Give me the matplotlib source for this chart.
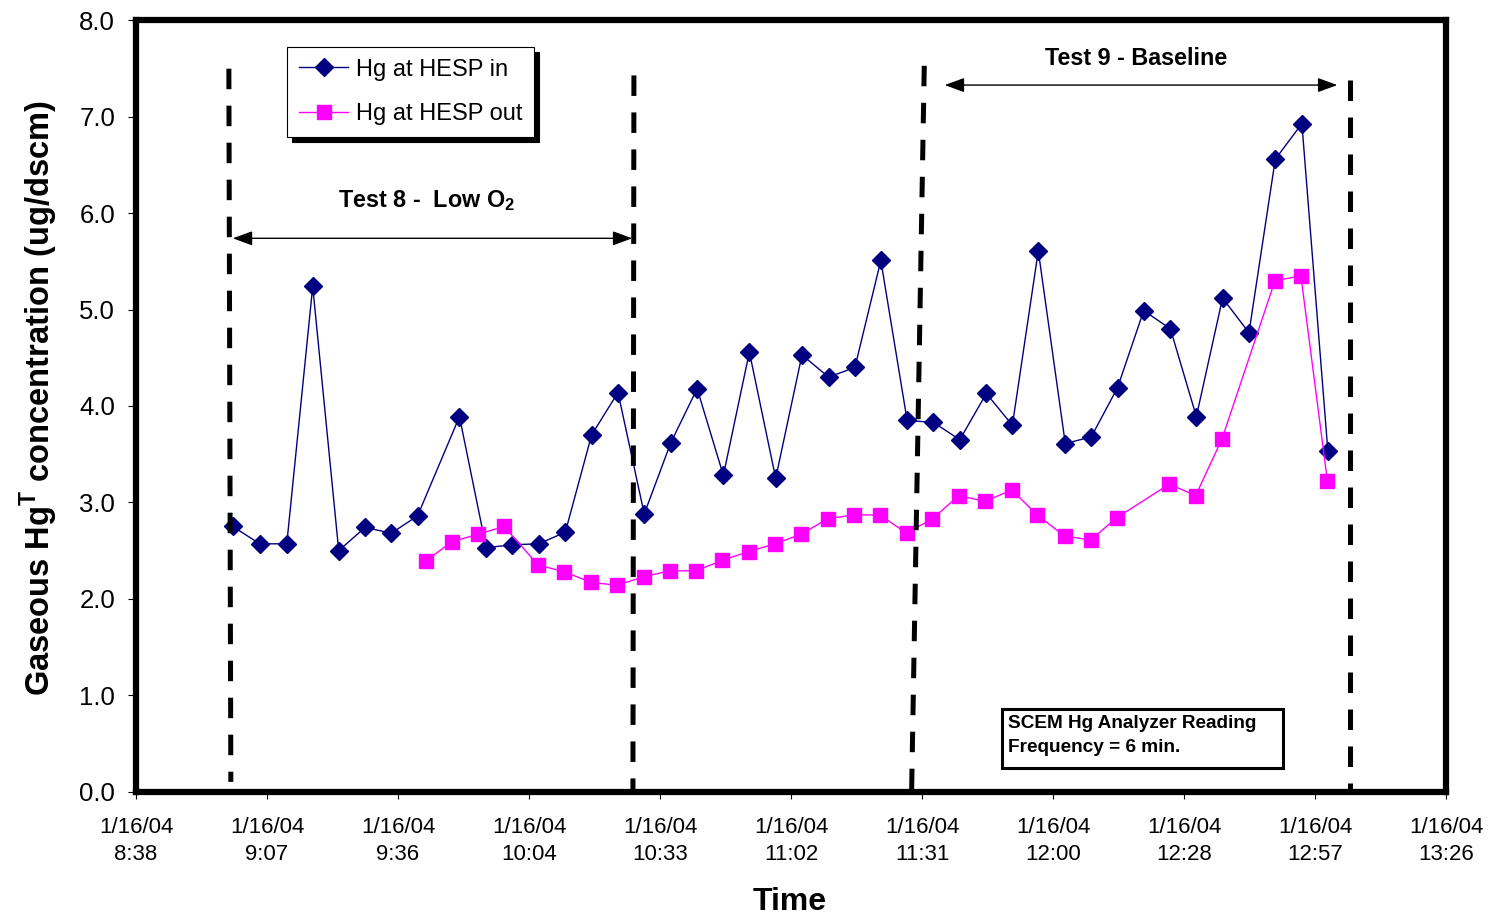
import matplotlib
matplotlib.use("Agg")
import matplotlib.pyplot as plt
import matplotlib.dates as mdates
from matplotlib.patches import Rectangle
import pandas as pd

plt.rcParams['font.family'] = ['Liberation Sans', 'DejaVu Sans']
plt.rcParams['mathtext.fontset'] = 'custom'
plt.rcParams['mathtext.rm'] = 'Liberation Sans'
plt.rcParams['mathtext.bf'] = 'Liberation Sans:bold'

day = "2004-01-16 "

# SCEM readings at the HESP inlet
in_times = ["8:59:41", "9:05:36", "9:11:33", "9:17:15", "9:22:58", "9:28:47", "9:34:32",
            "9:40:18", "9:49:31", "9:55:23", "10:01:10", "10:06:56", "10:12:47", "10:18:34",
            "10:24:22", "10:30:08", "10:35:59", "10:41:46", "10:47:32", "10:53:15", "10:59:02",
            "11:04:49", "11:10:40", "11:16:27", "11:22:09", "11:27:56", "11:33:43", "11:39:30",
            "11:45:21", "11:51:04", "11:56:46", "12:02:42", "12:08:25", "12:14:11", "12:19:57",
            "12:25:49", "12:31:31", "12:37:17", "12:43:05", "12:48:52", "12:54:43", "13:00:26"]
in_hg = [2.75, 2.57, 2.57, 5.24, 2.50, 2.74, 2.68,
         2.86, 3.89, 2.53, 2.56, 2.57, 2.69, 3.70,
         4.14, 2.88, 3.62, 4.18, 3.28, 4.56, 3.25,
         4.53, 4.30, 4.40, 5.51, 3.85, 3.83, 3.65,
         4.13, 3.80, 5.61, 3.61, 3.68, 4.19, 4.99,
         4.80, 3.89, 5.12, 4.76, 6.56, 6.93, 3.53]

# SCEM readings at the HESP outlet
out_times = ["9:42:04", "9:47:46", "9:53:38", "9:59:20", "10:06:48", "10:12:34", "10:18:26",
             "10:24:08", "10:30:08", "10:35:46", "10:41:33", "10:47:19", "10:53:07", "10:58:53",
             "11:04:40", "11:10:28", "11:16:14", "11:21:56", "11:27:48", "11:33:30", "11:39:17",
             "11:45:08", "11:50:55", "11:56:31", "12:02:33", "12:08:16", "12:14:01", "12:25:35",
             "12:31:22", "12:37:10", "12:48:48", "12:54:30", "13:00:20"]
out_hg = [2.39, 2.59, 2.67, 2.75, 2.35, 2.28, 2.17,
          2.14, 2.23, 2.29, 2.29, 2.40, 2.49, 2.57,
          2.67, 2.83, 2.87, 2.87, 2.68, 2.83, 3.07,
          3.01, 3.13, 2.87, 2.65, 2.61, 2.84, 3.19,
          3.07, 3.66, 5.30, 5.35, 3.22]

# hand-drawn test period boundaries (top and bottom end of each dashed line)
bound_top_t = ["8:58:49", "10:27:52", "11:31:42", "13:05:19"]
bound_bot_t = ["8:59:15", "10:27:39", "11:28:54", "13:05:19"]
bound_top_v = [7.50, 7.43, 7.53, 7.38]
bound_bot_v = [0.10, 0.02, -0.05, 0.0]

# test periods: arrow start, arrow end, arrow level, label time, label level
test8 = ("8:59:41", "10:27:30", 5.74, "9:42:18", 6.13)
test9 = ("11:36:12", "13:02:30", 7.33, "12:18:21", 7.61)


def tnum(ts):
    if isinstance(ts, str):
        return mdates.date2num(pd.Timestamp(day + ts).to_pydatetime())
    return [mdates.date2num(pd.Timestamp(day + t).to_pydatetime()) for t in ts]


fig = plt.figure(figsize=(14.93, 9.15), dpi=100)
ax = fig.add_axes([0.09109, 0.13497, 0.96852 - 0.09109, 0.9776 - 0.13497])

ax.plot(tnum(in_times), in_hg, color='#000080', lw=1.0, marker='D', ms=9.2,
        mec='#000080', mfc='#000080', label='Hg at HESP in', zorder=3)
ax.plot(tnum(out_times), out_hg, color='#FF00FF', lw=1.0, marker='s', ms=9.8,
        mec='#FF00FF', mfc='#FF00FF', label='Hg at HESP out', zorder=3)

# x axis: Excel-style date ticks every 0.02 day
ticks = pd.date_range(day + "08:38:24", periods=11, freq="1728s")
tick_nums = [mdates.date2num(t.to_pydatetime()) for t in ticks]
tick_labels = ["{}/{}/{}\n{}:{:02d}".format(t.month, t.day, t.strftime("%y"), t.hour, t.minute)
               for t in ticks]
ax.set_xlim(tick_nums[0], tick_nums[-1])
ax.set_xticks(tick_nums)
ax.set_xticklabels(tick_labels, fontsize=16, linespacing=1.4)
ax.set_ylim(0, 8)
ax.set_yticks(range(0, 9))
ax.set_yticklabels(["{:.1f}".format(v) for v in range(0, 9)], fontsize=18.5)
ax.tick_params(axis='x', direction='out', length=5, width=0.8, pad=13)
ax.tick_params(axis='y', direction='out', length=6, width=0.8, pad=9)
for s in ax.spines.values():
    s.set_linewidth(4.5)
    s.set_color('black')

# dashed boundaries
for tt, tb, vt, vb in zip(bound_top_t, bound_bot_t, bound_top_v, bound_bot_v):
    ax.plot([tnum(tt), tnum(tb)], [vt, vb], color='black', lw=3.6,
            linestyle=(0, (4.1, 3.3)), dash_capstyle='butt', zorder=4, clip_on=False)

# test period arrows and labels
for (a, b, lvl, lt, lv), txt in zip([test8, test9],
                                    [r'Test 8 -  Low O$_\mathbf{2}$', 'Test 9 - Baseline']):
    ax.annotate('', xy=(tnum(b), lvl), xytext=(tnum(a), lvl),
                arrowprops=dict(arrowstyle='<|-|>,head_length=0.6,head_width=0.22',
                                mutation_scale=20, color='black', lw=1.0,
                                shrinkA=0, shrinkB=0), zorder=5)
    ax.text(tnum(lt), lv, txt, fontsize=16.8, fontweight='bold', ha='center', va='center')

leg = ax.legend(loc='upper left', bbox_to_anchor=(0.1153, 0.966), borderaxespad=0,
                fontsize=17, frameon=True, fancybox=False, handlelength=2.1,
                handletextpad=0.3, labelspacing=0.95, borderpad=0.5,
                shadow={'ox': 3.5, 'oy': -3.5, 'facecolor': 'black', 'edgecolor': 'black', 'alpha': 1})
leg.get_frame().set_edgecolor('black')
leg.get_frame().set_linewidth(0.8)
leg.get_frame().set_alpha(1)
for line in leg.get_lines():
    line.set_linewidth(1.0)

# reading frequency note
ax.add_patch(Rectangle((0.661, 0.0311), 0.2145, 0.0764, transform=ax.transAxes,
                       fill=True, facecolor='white', edgecolor='black', lw=2.2, zorder=6))
ax.text(0.6656, 0.0725, "SCEM Hg Analyzer Reading\nFrequency = 6 min.", transform=ax.transAxes,
        fontsize=13.7, fontweight='bold', ha='left', va='center', linespacing=1.55, zorder=7)

fig.text(50 / 1493, 1 - 398 / 915, r'Gaseous Hg$^{\mathbf{T}}$ concentration (ug/dscm)',
         rotation=90, rotation_mode='anchor', ha='center', va='baseline',
         fontsize=23.5, fontweight='bold')
fig.text(790 / 1493, 1 - 902 / 915, 'Time', ha='center', va='center',
         fontsize=23, fontweight='bold')

fig.savefig("out.png", dpi=100)
